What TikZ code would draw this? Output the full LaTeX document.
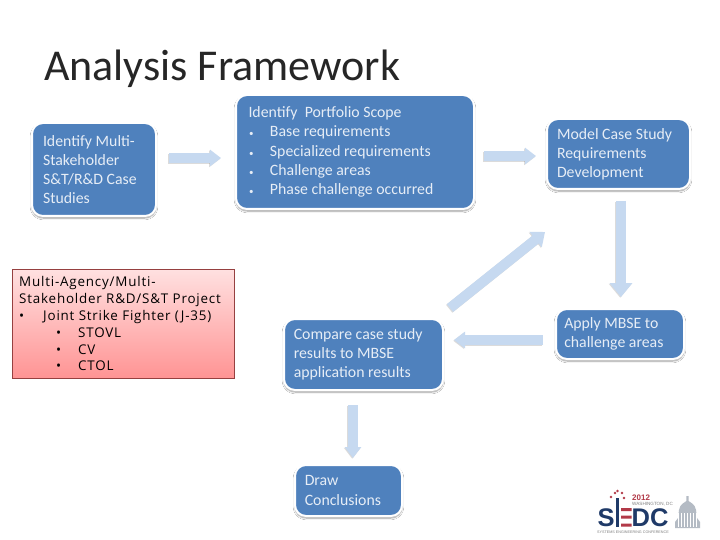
\documentclass[tikz,border=0pt]{standalone}
\usepackage{fontspec}
\setmainfont{Carlito}
\newfontfamily\notefont[LetterSpace=6]{Open Sans}
\newfontfamily\logofont{Liberation Sans}
\usetikzlibrary{arrows.meta,calc,shadows.blur}
\definecolor{boxblue}{HTML}{4F81BD}
\definecolor{boxtext}{HTML}{E6EDF6}
\definecolor{arrowblue}{HTML}{C6D9F0}
\definecolor{navy}{HTML}{1F3A68}
\definecolor{logored}{HTML}{B23A48}
\definecolor{domegray}{HTML}{B4BBC4}
\tikzset{
  x=1pt,y=-1pt,
  flowbox/.style={draw=white,line width=2pt,fill=boxblue,rounded corners=11pt,text=boxtext,
    blur shadow={shadow xshift=0pt,shadow yshift=-2pt,shadow blur steps=8,shadow blur radius=1.8pt,shadow opacity=40},
    anchor=north west,inner sep=0pt,font=\fontsize{15.8}{19.2}\selectfont,align=left},
  smallhead/.style={-{Triangle[length=11pt,width=16pt]}},
  bighead/.style={-{Triangle[length=14pt,width=22pt]}},
  flowarrow/.style={draw=arrowblue,line width=10pt},
  arrowshade/.style={draw=gray,line width=10pt,opacity=.28},
  noteitem/.style={anchor=north west,inner sep=0pt,font=\notefont\fontsize{13.4}{16.8}\selectfont,text=black,align=left},
}
\newcommand{\flowconn}[3]{% options, start, end
  \draw[arrowshade,#1,transform canvas={shift={(-0.8pt,-0.8pt)}}] #2 -- #3;
  \draw[flowarrow,#1] #2 -- #3;}
\begin{document}
\begin{tikzpicture}
\useasboundingbox (0,0) rectangle (720,540);
\fill[white] (0,0) rectangle (720,540);
\node[anchor=west,inner sep=0pt,text=black!85,font=\fontsize{44}{48}\selectfont] (title) at (44,69) {Analysis Framework};

\node[flowbox,minimum width=124pt,minimum height=93pt] (identify) at (31,122)
  {\hspace*{8pt}\raisebox{2pt}{\parbox{110pt}{Identify Multi-\\Stakeholder\\S\&T/R\&D Case\\Studies}}};
\node[flowbox,minimum width=238pt,minimum height=114pt] (portfolio) at (235,94)
  {\hspace*{9pt}\parbox{222pt}{Identify\ \ Portfolio Scope\\
  \hspace*{0.5pt}{\small•}\hspace{16.5pt}Base requirements\\
  \hspace*{0.5pt}{\small•}\hspace{16.5pt}Specialized requirements\\
  \hspace*{0.5pt}{\small•}\hspace{16.5pt}Challenge areas\\
  \hspace*{0.5pt}{\small•}\hspace{16.5pt}Phase challenge occurred}};
\node[flowbox,minimum width=143pt,minimum height=70pt] (model) at (546,118)
  {\hspace*{7pt}\parbox{130pt}{Model Case Study\\Requirements\\Development}};
\node[flowbox,minimum width=128pt,minimum height=50pt] (apply) at (555,308)
  {\hspace*{6.5pt}\parbox{118pt}{Apply MBSE to\\challenge areas}};
\node[flowbox,minimum width=159pt,minimum height=71pt] (compare) at (283,318)
  {\hspace*{6.5pt}\parbox{146pt}{Compare case study\\results to MBSE\\application results}};
\node[flowbox,minimum width=107pt,minimum height=51pt] (draw) at (294,464)
  {\hspace*{7.5pt}\raisebox{1pt}{\parbox{95pt}{Draw\\Conclusions}}};

\coordinate (diagtip) at (545,232);

\flowconn{smallhead,shorten <=12pt,shorten >=14pt}{(identify.east |- 0,158)}{(portfolio.west |- 0,158)}
\flowconn{smallhead,shorten <=9pt,shorten >=10pt}{(portfolio.east |- 0,156)}{(model.west |- 0,156)}
\flowconn{bighead,shorten <=11pt,shorten >=11pt}{(model.south -| 621,0)}{(apply.north -| 621,0)}
\flowconn{smallhead,shorten <=12pt,shorten >=10pt}{(apply.west |- 0,340)}{(compare.east |- 0,340)}
\flowconn{smallhead,shorten <=14pt,shorten >=6pt}{(compare.south -| 353,0)}{(draw.north -| 353,0)}
\flowconn{-{Triangle[length=12pt,width=19pt]}}{([shift={(6,-10)}]compare.north east)}{(diagtip)}

\shade[top color=red!12,bottom color=red!42,draw=red!45!black!75,line width=.7pt] (12,269) rectangle (234,378);
\node[noteitem] (notea) at (19,276) {Multi-Agency/Multi-\\Stakeholder R\&D/S\&T Project};
\node[noteitem] (noteb) at (19,310) {•\hspace{19pt}Joint Strike Fighter (J-35)};
\node[noteitem] (notec) at (56,328) {•\hspace{17pt}STOVL};
\node[noteitem] (noted) at (56,344.5) {•\hspace{17pt}CV};
\node[noteitem] (notee) at (56,361) {•\hspace{17pt}CTOL};

% logo
\node[anchor=west,inner sep=0pt,text=navy,font=\logofont\bfseries\fontsize{25.5}{26}\selectfont] (sedc) at (597.5,517.5) {SEDC};
\fill[white] (615.5,505) rectangle (632.5,530);
\fill[navy] (615.8,498) rectangle (619,527);
\fill[logored] (621,508) rectangle (631.5,511) (621,515.5) rectangle (631.5,518.5) (621,523.5) rectangle (631.5,526.5);
\foreach \a/\b in {611/497,615/493,617.5/491,622/493,624/498}
  \fill[logored] (\a,\b) circle (1.3pt);
\node[anchor=west,inner sep=0pt,text=logored,font=\logofont\bfseries\fontsize{8}{8}\selectfont] (year) at (632,498) {2012};
\node[anchor=west,inner sep=0pt,text=gray,font=\logofont\fontsize{4.6}{5}\selectfont] (place) at (632,504) {WASHINGTON, DC};
\node[anchor=west,inner sep=0pt,text=gray,font=\logofont\fontsize{3.7}{4}\selectfont] (conf) at (597,532) {SYSTEMS ENGINEERING CONFERENCE};
\fill[domegray] (675,528) rectangle (700,522) -- (697,518) -- (696,510) .. controls (695,504) and (691,503) .. (688.6,501) -- (688.6,496) -- (686.4,496) -- (686.4,501) .. controls (684,503) and (680,504) .. (679,510) -- (678,518) -- (675,522) -- cycle;
\foreach \x in {678,681,684,687,690,693,696}
  \draw[white,line width=.5pt] (\x,513) -- (\x,527);
\end{tikzpicture}
\end{document}
